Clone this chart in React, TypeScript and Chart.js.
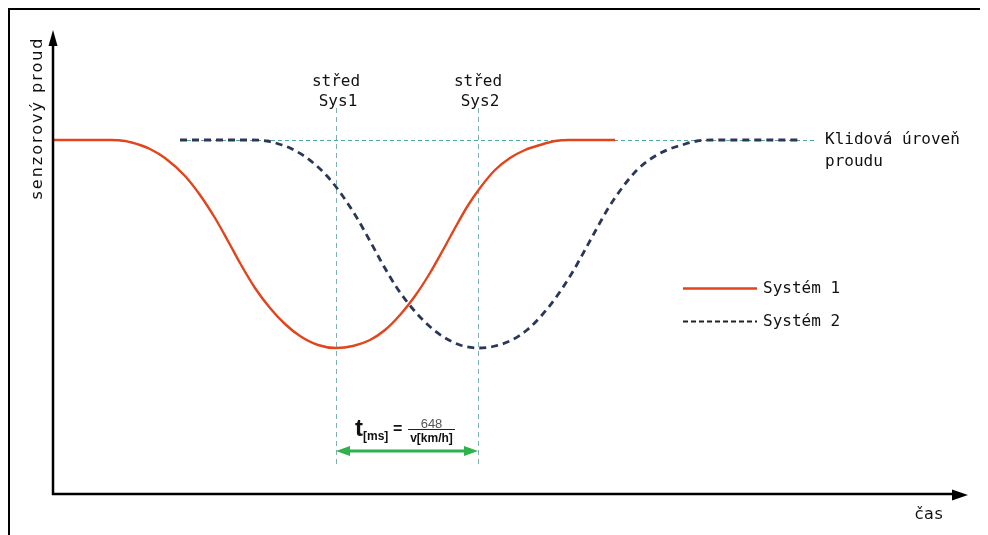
import React, { useEffect, useRef } from "react";
import { Chart, registerables } from "chart.js";

Chart.register(...registerables);

// time axis (arbitrary units) and sensor current (arbitrary units)
const sys1Time = [0, 57, 72, 87, 97, 112, 132, 147, 162, 175, 187, 202, 217, 232, 247, 265, 283, 300, 317, 332, 347, 362, 377, 390, 402, 414, 427, 442, 457, 472, 487, 502, 517, 562];
const sys1Current = [354, 354, 353, 349, 345, 336, 318, 299, 276, 253, 231, 206, 186, 170, 158, 149, 146, 148, 154, 164, 179, 198, 221, 244, 266, 287, 306, 324, 336, 344, 349, 353, 354, 354];
const sys2Time = [127, 199, 214, 229, 239, 254, 274, 289, 304, 317, 329, 344, 359, 374, 389, 407, 425, 442, 459, 474, 489, 504, 519, 532, 544, 556, 569, 584, 599, 614, 629, 644, 659, 747];
const sys2Current = [354, 354, 353, 349, 345, 336, 318, 299, 276, 253, 231, 206, 186, 170, 158, 149, 146, 148, 154, 164, 179, 198, 221, 244, 266, 287, 306, 324, 336, 344, 349, 353, 354, 354];

const seriesLabels = ["Systém 1", "Systém 2"];
const restLevel = 354;
const restLineRange = [127, 762];
const centerTimes = [283, 425];
const centerLabels = [["střed", "Sys1"], ["střed", "Sys2"]];
const restLabel = ["Klidová úroveň", "proudu"];
const yTitle = "senzorový proud";
const xTitle = "čas";

const MONO = '"DejaVu Sans Mono", "Liberation Mono", monospace';
const SANS = '"DejaVu Sans", Verdana, sans-serif';
const ARIAL = '"Liberation Sans", Arial, sans-serif';

function arrowHead(ctx: CanvasRenderingContext2D, tx: number, ty: number, dir: "up" | "right" | "left", len: number, half: number) {
  ctx.beginPath();
  if (dir === "up") {
    ctx.moveTo(tx, ty);
    ctx.lineTo(tx - half, ty + len);
    ctx.lineTo(tx + half, ty + len);
  } else if (dir === "right") {
    ctx.moveTo(tx, ty);
    ctx.lineTo(tx - len, ty - half);
    ctx.lineTo(tx - len, ty + half);
  } else {
    ctx.moveTo(tx, ty);
    ctx.lineTo(tx + len, ty - half);
    ctx.lineTo(tx + len, ty + half);
  }
  ctx.closePath();
  ctx.fill();
}

const guidesPlugin = {
  id: "guides",
  beforeDatasetsDraw(chart: any) {
    const { ctx, scales } = chart;
    const xs = scales.x, ys = scales.y;
    ctx.save();
    ctx.strokeStyle = "#4fa898";
    ctx.lineWidth = 1;
    ctx.setLineDash([4, 3]);
    const yr = Math.round(ys.getPixelForValue(restLevel)) + 0.5;
    ctx.beginPath();
    ctx.moveTo(xs.getPixelForValue(restLineRange[0]), yr);
    ctx.lineTo(xs.getPixelForValue(restLineRange[1]), yr);
    ctx.stroke();
    ctx.strokeStyle = "#7fb0b0";
    ctx.setLineDash([5, 4]);
    centerTimes.forEach((t) => {
      const x = Math.round(xs.getPixelForValue(t)) + 0.5;
      ctx.beginPath();
      ctx.moveTo(x, ys.getPixelForValue(386));
      ctx.lineTo(x, ys.getPixelForValue(29));
      ctx.stroke();
    });
    ctx.restore();
  },
  afterDatasetsDraw(chart: any) {
    const { ctx, scales, chartArea } = chart;
    const xs = scales.x, ys = scales.y;
    ctx.save();
    ctx.setLineDash([]);
    ctx.strokeStyle = "#000";
    ctx.fillStyle = "#000";
    ctx.lineWidth = 2.5;
    const ax = chartArea.left;
    const ay = chartArea.bottom;
    ctx.beginPath();
    ctx.moveTo(ax, ay + 1);
    ctx.lineTo(ax, chartArea.top + 12);
    ctx.stroke();
    arrowHead(ctx, ax, chartArea.top - 1, "up", 16, 4.5);
    ctx.beginPath();
    ctx.moveTo(ax - 1, ay);
    ctx.lineTo(chartArea.right - 12, ay);
    ctx.stroke();
    arrowHead(ctx, chartArea.right, ay + 1, "right", 16, 5.5);

    // axis titles
    ctx.fillStyle = "#111";
    ctx.font = `16px ${SANS}`;
    (ctx as any).letterSpacing = "2px";
    ctx.save();
    ctx.translate(ax - 15, chartArea.top + 87);
    ctx.rotate(-Math.PI / 2);
    ctx.textAlign = "center";
    ctx.textBaseline = "middle";
    ctx.fillText(yTitle, 0, 0);
    ctx.restore();
    (ctx as any).letterSpacing = "0.5px";
    ctx.textAlign = "center";
    ctx.textBaseline = "middle";
    ctx.fillText(xTitle, chartArea.right - 39, ay + 21);
    (ctx as any).letterSpacing = "0px";

    // center labels
    ctx.font = `16px ${MONO}`;
    ctx.fillStyle = "#111";
    centerTimes.forEach((t, i) => {
      const x = xs.getPixelForValue(t);
      ctx.fillText(centerLabels[i][0], x, ys.getPixelForValue(412));
      ctx.fillText(centerLabels[i][1], x + 2, ys.getPixelForValue(392));
    });

    // rest label
    ctx.textAlign = "left";
    ctx.fillText(restLabel[0], xs.getPixelForValue(772), ys.getPixelForValue(restLevel));
    ctx.fillText(restLabel[1], xs.getPixelForValue(772), ys.getPixelForValue(332));

    // legend
    const ds = chart.data.datasets;
    const lx0 = xs.getPixelForValue(630), lx1 = xs.getPixelForValue(704);
    const legendY = [206, 173];
    ds.forEach((d: any, i: number) => {
      const y = Math.round(ys.getPixelForValue(legendY[i])) + 0.5;
      ctx.strokeStyle = i === 0 ? d.borderColor : "#222";
      ctx.lineWidth = i === 0 ? 2.5 : 1.8;
      ctx.setLineDash(i === 0 ? [] : [5, 3]);
      ctx.beginPath();
      ctx.moveTo(lx0, y);
      ctx.lineTo(lx1, y);
      ctx.stroke();
      ctx.setLineDash([]);
      ctx.fillStyle = "#111";
      ctx.textAlign = "left";
      ctx.fillText(d.label, lx1 + 6, y);
    });

    // travel time arrow
    const gx0 = xs.getPixelForValue(centerTimes[0]);
    const gx1 = xs.getPixelForValue(centerTimes[1]);
    const gy = ys.getPixelForValue(43);
    ctx.strokeStyle = "#2fb24c";
    ctx.fillStyle = "#2fb24c";
    ctx.lineWidth = 3;
    ctx.beginPath();
    ctx.moveTo(gx0 + 10, gy);
    ctx.lineTo(gx1 - 10, gy);
    ctx.stroke();
    arrowHead(ctx, gx0, gy, "left", 14, 5);
    arrowHead(ctx, gx1, gy, "right", 14, 5);

    // formula
    const fx = gx0 + 19;
    const fb = ys.getPixelForValue(58);
    ctx.fillStyle = "#111";
    ctx.textAlign = "left";
    ctx.textBaseline = "alphabetic";
    ctx.font = `bold 24px ${ARIAL}`;
    ctx.fillText("t", fx, fb);
    ctx.font = `bold 12px ${ARIAL}`;
    ctx.fillText("[ms]", fx + 8, fb + 4);
    ctx.font = `bold 16px ${ARIAL}`;
    ctx.fillText("=", fx + 38, fb - 2);
    const fracL = fx + 53, fracR = fx + 100;
    const lineY = Math.round(fb - 7) + 0.5;
    ctx.strokeStyle = "#222";
    ctx.lineWidth = 1;
    ctx.beginPath();
    ctx.moveTo(fracL, lineY);
    ctx.lineTo(fracR, lineY);
    ctx.stroke();
    ctx.textAlign = "center";
    ctx.fillStyle = "#555";
    ctx.font = `13px ${ARIAL}`;
    ctx.fillText("648", (fracL + fracR) / 2, lineY - 2);
    ctx.fillStyle = "#111";
    ctx.font = `bold 12px ${ARIAL}`;
    ctx.fillText("v[km/h]", (fracL + fracR) / 2, lineY + 12);
    ctx.restore();
  },
};

export default function App() {
  const ref = useRef<HTMLCanvasElement | null>(null);
  useEffect(() => {
    if (!ref.current) return;
    const chart = new Chart(ref.current, {
      type: "line",
      data: {
        datasets: [
          {
            label: seriesLabels[0],
            data: sys1Time.map((t, i) => ({ x: t, y: sys1Current[i] })),
            borderColor: "#e2441c",
            borderWidth: 2.4,
            pointRadius: 0,
            cubicInterpolationMode: "monotone",
            fill: false,
          },
          {
            label: seriesLabels[1],
            data: sys2Time.map((t, i) => ({ x: t, y: sys2Current[i] })),
            borderColor: "#2a3756",
            borderWidth: 2.8,
            borderDash: [7, 5],
            pointRadius: 0,
            cubicInterpolationMode: "monotone",
            fill: false,
          },
        ],
      },
      options: {
        responsive: false,
        animation: false,
        layout: { padding: { left: 43, right: 20, top: 21, bottom: 41 } },
        scales: {
          x: { type: "linear", min: 0, max: 915, display: false },
          y: { type: "linear", min: 0, max: 463, display: false },
        },
        plugins: { legend: { display: false }, tooltip: { enabled: false } },
      },
      plugins: [guidesPlugin],
    });
    return () => chart.destroy();
  }, []);
  return (
    <div style={{ width: 978, height: 525, borderTop: "2px solid #000", borderLeft: "2px solid #000", background: "#fff", overflow: "hidden" }}>
      <canvas ref={ref} width={978} height={525} style={{ display: "block" }} />
    </div>
  );
}
